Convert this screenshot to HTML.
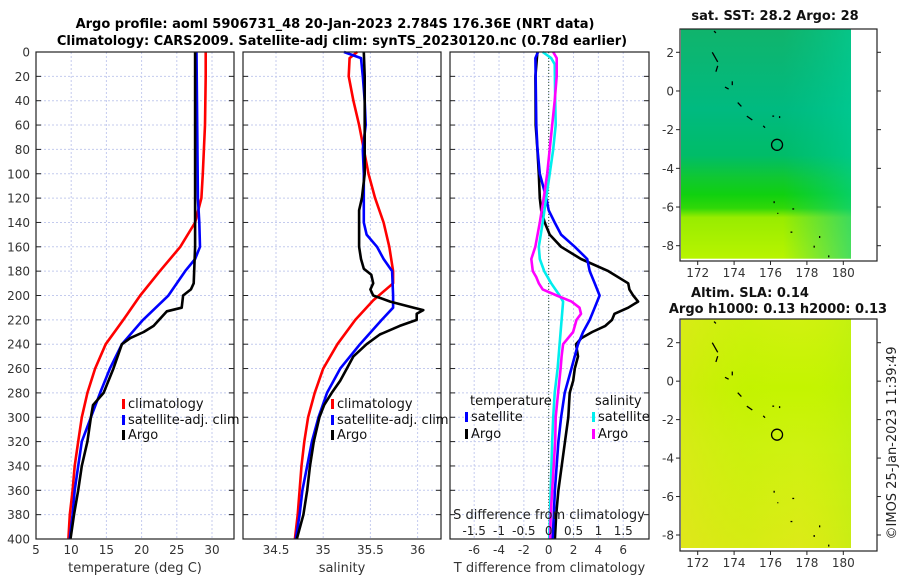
<!DOCTYPE html>
<html><head><meta charset="utf-8"><style>
body{margin:0;background:#fff;}
svg{display:block;font-family:"DejaVu Sans","Liberation Sans",sans-serif;}
</style></head><body>
<svg id="fig" width="900" height="580" viewBox="0 0 900 580" xmlns="http://www.w3.org/2000/svg">
<rect width="900" height="580" fill="#fff"/>
<text x="335" y="28" text-anchor="middle" font-size="13" font-weight="bold">Argo profile: aoml 5906731_48 20-Jan-2023 2.784S 176.36E (NRT data)</text>
<text x="342" y="45" text-anchor="middle" font-size="13" font-weight="bold">Climatology: CARS2009. Satellite-adj clim: synTS_20230120.nc (0.78d earlier)</text>
<g id="panels"></g>
<g id="maps"></g>
<text transform="translate(896,443) rotate(-90)" text-anchor="middle" font-size="13" fill="#222">©IMOS 25-Jan-2023 11:39:49</text>
</svg>
<script>
// ---- data ----
const depthTicks = [0,20,40,60,80,100,120,140,160,180,200,220,240,260,280,300,320,340,360,380,400];
const tempTicks = [5,10,15,20,25,30];
const salTicks = [34.5,35,35.5,36];
const tdiffTicks = [-6,-4,-2,0,2,4,6];
const sdiffTicks = [-1.5,-1,-0.5,0,0.5,1,1.5];

const climTDepth = [0,20,60,100,120,140,160,180,200,220,240,260,280,300,320,340,360,380,400];
const climT = [29.1,29.1,29.0,28.7,28.5,27.6,25.5,22.6,19.8,17.4,14.9,13.4,12.3,11.5,11.0,10.5,10.2,9.8,9.6];
const satTDepth = [0,60,120,140,160,170,180,200,220,240,260,280,300,320,340,360,380,400];
const satT = [27.8,27.9,28.0,28.2,28.3,27.6,26.2,23.8,20.2,17.2,15.5,14.1,12.8,11.5,11.0,10.5,10.2,9.8];
const argoTDepth = [0,40,100,160,190,195,200,210,213,225,230,235,240,260,280,290,300,320,340,360,380,400];
const argoT = [27.6,27.6,27.6,27.6,27.4,27.0,25.9,25.7,23.6,21.7,20.3,18.4,17.2,16.0,14.6,13.1,12.8,12.3,11.5,11.0,10.4,9.9];

const climSDepth = [0,5,20,40,60,80,100,120,140,160,180,190,204,220,240,260,280,300,320,340,360,380,400];
const climS = [35.36,35.28,35.27,35.32,35.38,35.43,35.48,35.55,35.64,35.70,35.74,35.74,35.53,35.34,35.15,35.0,34.91,34.84,34.80,34.77,34.75,34.73,34.70];
const satSDepth = [0,5,20,40,60,80,100,120,140,150,160,170,180,200,210,220,240,260,280,300,320,340,360,380,400];
const satS = [35.22,35.40,35.42,35.44,35.45,35.42,35.43,35.43,35.43,35.46,35.57,35.64,35.73,35.74,35.74,35.62,35.39,35.18,35.04,34.95,34.88,34.83,34.78,34.75,34.71];
const argoSDepth = [0,20,100,120,130,160,170,178,183,190,195,200,205,210,212,215,220,225,232,240,250,260,270,280,290,300,320,340,360,380,400];
const argoS = [35.43,35.44,35.44,35.41,35.38,35.38,35.40,35.43,35.51,35.53,35.50,35.53,35.71,35.96,36.06,35.99,35.99,35.81,35.60,35.46,35.32,35.25,35.18,35.09,35.01,34.96,34.90,34.86,34.83,34.79,34.72];

const satTdDepth = [0,5,60,80,100,120,130,140,150,160,170,180,190,200,210,220,230,240,260,280,300,320,360,400];
const satTd = [-0.86,-1.07,-1.0,-0.9,-0.72,-0.19,0.0,0.48,1.0,2.1,3.1,3.3,3.7,4.1,3.7,3.3,2.77,2.36,1.83,1.29,1.0,0.78,0.5,0.32];
const argoTdDepth = [0,20,60,80,100,120,130,140,150,160,170,180,190,195,200,205,210,215,220,225,230,235,240,250,260,270,280,300,320,340,360,380,400];
const argoTd = [-0.91,-1.07,-1.05,-0.91,-0.8,-0.72,-0.6,-0.32,0.08,1.0,2.6,4.8,6.4,6.5,6.8,7.2,6.4,5.3,5.1,4.56,3.5,2.63,2.2,2.36,2.1,1.97,1.69,1.58,1.31,1.05,0.78,0.6,0.5];
const satSdDepth = [0,5,10,40,60,80,100,120,140,160,170,180,190,200,205,220,240,260,280,300,320,360,400];
const satSd = [-0.12,0.05,0.12,0.13,0.14,0.09,0.02,-0.05,-0.12,-0.2,-0.18,-0.09,0.05,0.22,0.29,0.26,0.22,0.18,0.12,0.09,0.07,0.04,0.01];
const argoSdDepth = [0,5,20,40,60,80,100,120,140,160,170,180,185,190,195,200,205,210,215,220,230,240,250,260,280,300,320,340,360,380,400];
const argoSd = [0.09,0.16,0.16,0.12,0.07,0.02,-0.03,-0.1,-0.18,-0.27,-0.35,-0.32,-0.25,-0.2,-0.12,0.16,0.46,0.62,0.65,0.56,0.49,0.29,0.26,0.24,0.19,0.14,0.13,0.1,0.07,0.04,0.03];

const latTicks = [2,0,-2,-4,-6,-8];
const lonTicks = [172,174,176,178,180];
const floatLon = 176.36, floatLat = -2.784;

// ---- helpers ----
const NS = "http://www.w3.org/2000/svg";
function mk(tag, attrs, parent){const e=document.createElementNS(NS,tag);for(const k in attrs)e.setAttribute(k,attrs[k]);parent.appendChild(e);return e;}
const yD = d => 52 + d*1.2175;
const P = document.getElementById('panels');
const panels = [
  {x0:36,x1:234,fx:v=>36+(v-5)*7.04,ticks:tempTicks,label:'temperature (deg C)',name:'temperature-panel'},
  {x0:243,x1:441,fx:v=>276+(v-34.5)*94.4,ticks:salTicks,label:'salinity',name:'salinity-panel'},
  {x0:450,x1:649,fx:v=>548.7+v*12.42,ticks:tdiffTicks,label:'T difference from climatology',name:'difference-panel'}
];
panels.forEach((p,i)=>{
  const g = mk('g',{},P);
  
  
  depthTicks.forEach(d=>{
    const l = mk('line',{x1:p.x0,x2:p.x1,y1:yD(d),y2:yD(d),stroke:'#c4cbee','stroke-width':1,'stroke-dasharray':'2,2'},g);
    
    
    mk('line',{x1:p.x0,x2:p.x0+5,y1:yD(d),y2:yD(d),stroke:'#222'},g);
    mk('line',{x1:p.x1-5,x2:p.x1,y1:yD(d),y2:yD(d),stroke:'#222'},g);
    if(i===0){
      const t = mk('text',{x:30,y:yD(d)+4.5,'text-anchor':'end','font-size':12,fill:'#333'},g);
      t.textContent = d;
      
      
    }
  });
  p.ticks.forEach(v=>{
    const x = p.fx(v);
    const l = mk('line',{x1:x,x2:x,y1:52,y2:539,stroke:'#c4cbee','stroke-width':1,'stroke-dasharray':'2,2'},g);
    
    
    const t = mk('text',{x:x,y:554,'text-anchor':'middle','font-size':12,fill:'#333'},g);
    t.textContent = v;
    
    
  });
  const xl = mk('text',{x:(p.x0+p.x1)/2,y:572,'text-anchor':'middle','font-size':13,fill:'#333'},g);
  xl.textContent = p.label;
  
  
});
function series(depths, vals, fx, color, name, w){
  const pts = depths.map((d,k)=>fx(vals[k]).toFixed(1)+','+yD(d).toFixed(1)).join(' ');
  const e = mk('polyline',{points:pts,fill:'none',stroke:color,'stroke-width':w||2.6,'stroke-linejoin':'round'},P);
  
  
}
const f1=panels[0].fx,f2=panels[1].fx,f3=panels[2].fx,f3s=v=>548.7+v*49.7;
const z = mk('line',{x1:548.7,x2:548.7,y1:52,y2:539,stroke:'#335533','stroke-width':1,'stroke-dasharray':'1,2'},P);


series(climTDepth,climT,f1,'#ff0000','climatology-temperature-line');
series(satTDepth,satT,f1,'#0000ff','satellite-temperature-line');
series(argoTDepth,argoT,f1,'#000000','argo-temperature-line');
series(climSDepth,climS,f2,'#ff0000','climatology-salinity-line');
series(satSDepth,satS,f2,'#0000ff','satellite-salinity-line');
series(argoSDepth,argoS,f2,'#000000','argo-salinity-line');
series(argoTdDepth,argoTd,f3,'#000000','argo-tdiff-line');
series(satTdDepth,satTd,f3,'#0000ff','satellite-tdiff-line');
series(satSdDepth,satSd,f3s,'#00eeee','satellite-sdiff-line');
series(argoSdDepth,argoSd,f3s,'#ff00ff','argo-sdiff-line');
const sl = mk('text',{x:549,y:519,'text-anchor':'middle','font-size':13,fill:'#222'},P);
sl.textContent='S difference from climatology';


sdiffTicks.forEach(v=>{
  const t = mk('text',{x:f3s(v),y:535,'text-anchor':'middle','font-size':12,fill:'#222'},P);
  t.textContent=v;
  
  
});
panels.forEach(p=>{
  const r = mk('rect',{x:p.x0,y:52,width:p.x1-p.x0,height:487,fill:'none',stroke:'#222','stroke-width':1.2},P);
  
  
});
function legend(x,y,color,label,name){
  const g = mk('g',{},P);
  
  
  mk('rect',{x:x,y:y-9,width:3,height:10,fill:color},g);
  const t = mk('text',{x:x+6,y:y,'font-size':13,fill:'#111'},g);
  t.textContent=label;
}
legend(122,408,'#ff0000','climatology','legend-climatology');
legend(122,424,'#0000ff','satellite-adj. clim','legend-satellite-adj');
legend(122,439,'#000000','Argo','legend-argo');
legend(331,408,'#ff0000','climatology','legend-climatology-sal');
legend(331,424,'#0000ff','satellite-adj. clim','legend-satellite-adj-sal');
legend(331,439,'#000000','Argo','legend-argo-sal');
const lt = mk('text',{x:470,y:405,'font-size':13,fill:'#111'},P); lt.textContent='temperature';


const ls = mk('text',{x:595,y:405,'font-size':13,fill:'#111'},P); ls.textContent='salinity';


legend(465,421,'#0000ff','satellite','legend-t-satellite');
legend(465,438,'#000000','Argo','legend-t-argo');
legend(592,421,'#00eeee','satellite','legend-s-satellite');
legend(592,438,'#ff00ff','Argo','legend-s-argo');

// ---- maps ----
const M = document.getElementById('maps');
const defs = mk('defs',{},M);
function grad(id, stops, horiz){
  const g = mk('linearGradient',{id:id,x1:0,y1:0,x2:horiz?1:0,y2:horiz?0:1},defs);
  stops.forEach(s=>mk('stop',{offset:s[0],'stop-color':s[1],'stop-opacity':s[2]===undefined?1:s[2]},g));
}
grad('sstV',[[0,'#10b46c'],[0.35,'#00ba80'],[0.55,'#00bc68'],[0.65,'#10c830'],[0.72,'#10d010'],[0.78,'#30d808'],[0.82,'#98ec00'],[1,'#b8f400']]);
grad('sstH',[[0,'#10b050',0.0],[0.6,'#00c890',0.0],[1,'#00d09a',0.6]],true);
grad('slaV',[[0,'#d0f210'],[0.3,'#c4f400'],[0.55,'#cef210'],[0.8,'#d6ee14'],[1,'#dcea18']]);
grad('slaH',[[0,'#e6e020',0.4],[0.4,'#c0f000',0.2],[0.7,'#c8f400',0],[1,'#b0f010',0.4]],true);
const maps = [
  {top:29,bot:261,imgBot:258.7,lat0:52.3,latS:19.34,title:['sat. SST: 28.2 Argo: 28'],ty:[20],tx:[775],fill:['url(#sstV)','url(#sstH)'],name:'sst-map'},
  {top:319,bot:551,imgBot:548,lat0:342.7,latS:19.23,title:['Altim. SLA: 0.14','Argo h1000: 0.13 h2000: 0.13'],ty:[297,313],tx:[750,778],fill:['url(#slaV)','url(#slaH)'],name:'sla-map'}
];
const lonX = lon => 697.7 + (lon-172)*18.2;
maps.forEach(m=>{
  const g = mk('g',{},M);
  
  
  const latY = lat => m.lat0 + (2-lat)*m.latS;
  m.fill.forEach(f=>mk('rect',{x:681,y:m.top,width:170,height:m.imgBot-m.top,fill:f},g));
  [[172.9,3.1,173.0,3.0],[172.8,2.0,173.1,1.5],[173.1,1.3,173.0,1.0],[173.5,0.2,173.7,0.1],[173.9,0.5,173.9,0.3],[174.2,-0.6,174.4,-0.8],[174.7,-1.3,175.0,-1.5],[175.6,-1.8,175.7,-1.9],[176.1,-1.3,176.2,-1.3],[176.5,-1.3,176.5,-1.4],[176.2,-5.7,176.2,-5.8],[177.2,-6.1,177.3,-6.1],[177.1,-7.3,177.2,-7.3],[178.4,-8.0,178.4,-8.1],[178.7,-7.5,178.7,-7.6],[179.2,-8.5,179.2,-8.6],[176.4,-6.3,176.4,-6.35]].forEach(c=>{
    mk('line',{x1:lonX(c[0]),y1:latY(c[1]),x2:lonX(c[2]),y2:latY(c[3]),stroke:'#000','stroke-width':1.3},g);
  });
  const fc = mk('ellipse',{cx:lonX(floatLon),cy:latY(floatLat),rx:5.5,ry:5.5,fill:'none',stroke:'#000','stroke-width':1.3},g);
  
  
  mk('rect',{x:680,y:m.top,width:197,height:m.bot-m.top,fill:'none',stroke:'#222','stroke-width':1.2},g);
  latTicks.forEach(l=>{
    const y = latY(l);
    mk('line',{x1:680,x2:676,y1:y,y2:y,stroke:'#222'},g);
    mk('line',{x1:877,x2:881,y1:y,y2:y,stroke:'#222'},g);
    const t = mk('text',{x:674,y:y+4.5,'text-anchor':'end','font-size':12,fill:'#333'},g);
    t.textContent = l;
    
    
  });
  lonTicks.forEach(l=>{
    const x = lonX(l);
    mk('line',{x1:x,x2:x,y1:m.bot,y2:m.bot+4,stroke:'#222'},g);
    const t = mk('text',{x:x,y:m.bot+16,'text-anchor':'middle','font-size':12,fill:'#333'},g);
    t.textContent = l;
    
    
  });
  m.title.forEach((s,k)=>{
    const t = mk('text',{x:m.tx[k],y:m.ty[k],'text-anchor':'middle','font-size':13,'font-weight':'bold',fill:'#111'},g);
    t.textContent = s;
    
    
  });
});
</script>
</body></html>
